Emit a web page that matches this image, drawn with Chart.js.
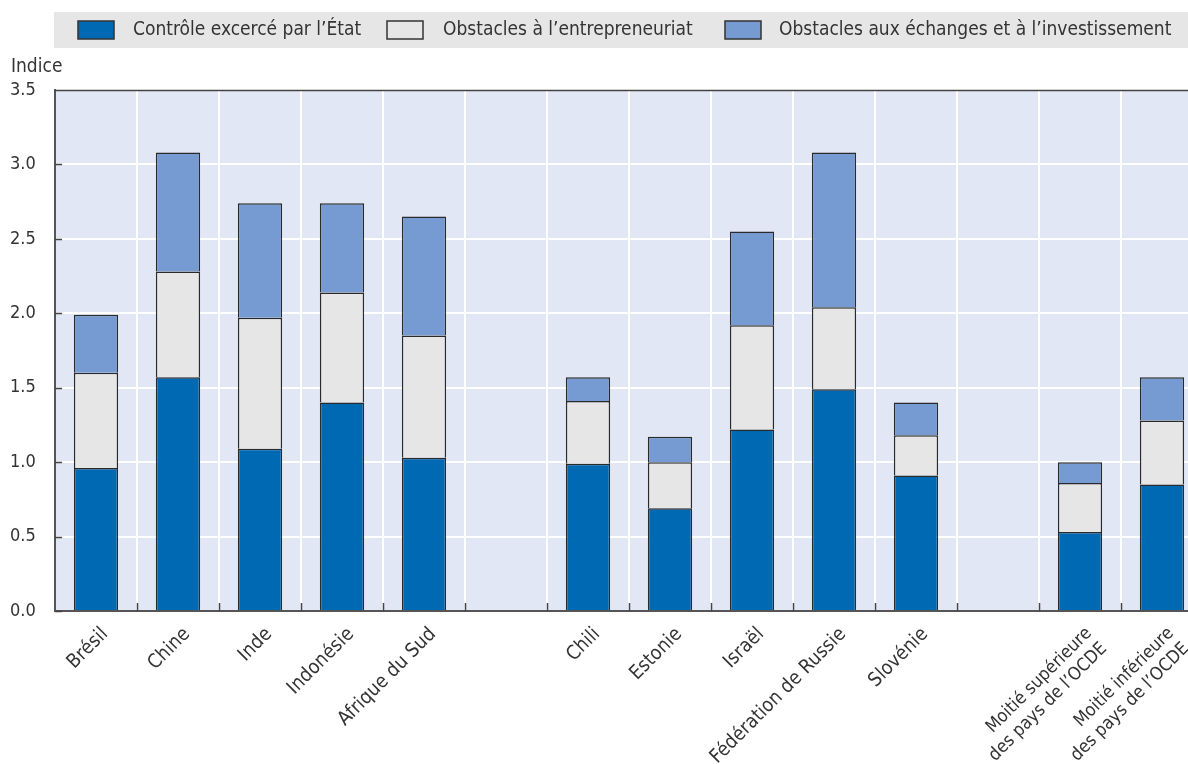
<!DOCTYPE html>
<html>
<head>
<meta charset="utf-8">
<script src="https://cdn.jsdelivr.net/npm/chart.js@4"></script>
<style>
  html,body{margin:0;padding:0;background:#fff;overflow:hidden;}
  #wrap{width:1203px;height:764px;}
</style>
</head>
<body>
<div id="wrap"><canvas id="pmr"></canvas></div>
<script>
// categories (empty strings are the gaps between groups)
const categories=["Brésil","Chine","Inde","Indonésie","Afrique du Sud","",
  "Chili","Estonie","Israël","Fédération de Russie","Slovénie","",
  ["Moitié supérieure","des pays de l’OCDE"],["Moitié inférieure","des pays de l’OCDE"]];

const controleEtat=[0.96,1.57,1.09,1.40,1.03,null,0.99,0.69,1.22,1.49,0.91,null,0.53,0.85];
const obstEntrepreneuriat=[0.64,0.71,0.88,0.74,0.82,null,0.42,0.31,0.70,0.55,0.27,null,0.33,0.43];
const obstEchanges=[0.39,0.80,0.77,0.60,0.80,null,0.16,0.17,0.63,1.04,0.22,null,0.14,0.29];

const seriesNames=["Contrôle excercé par l’État","Obstacles à l’entrepreneuriat","Obstacles aux échanges et à l’investissement"];
const seriesColors=["#0069b4","#e6e6e6","#759bd2"];
const yTicks=[0,0.5,1,1.5,2,2.5,3,3.5];

const FONT="'Liberation Sans Narrow','DejaVu Sans Condensed','Liberation Sans',sans-serif";

// legend strip + plot background + "Indice" label + frame ticks
const decor={
  id:'decor',
  beforeDraw(chart){
    const c=chart.ctx, a=chart.chartArea;
    c.save();
    c.fillStyle='#e6e6e6';
    c.fillRect(54,12,chart.width-54,36);
    // legend items
    const boxX=[78,387,725], textX=[133,443,779];
    c.font="19px "+FONT;
    c.textBaseline='middle';
    seriesNames.forEach((s,i)=>{
      c.fillStyle=seriesColors[i];
      c.fillRect(boxX[i],21,36,18);
      c.strokeStyle='#333';c.lineWidth=1.5;
      c.strokeRect(boxX[i],21,36,18);
      c.fillStyle='#333';
      c.fillText(s,textX[i],30.5);
    });
    c.fillStyle='#e1e7f4';
    c.fillRect(a.left,a.top,a.right-a.left,a.bottom-a.top);
    c.fillStyle='#333';
    c.font="19px "+FONT;
    c.textBaseline='alphabetic';
    c.fillText('Indice',11,72);
    c.restore();
  },
  afterDatasetsDraw(chart){
    const c=chart.ctx, a=chart.chartArea, xs=chart.scales.x, ys=chart.scales.y;
    c.save();
    c.strokeStyle='#444';
    c.lineWidth=1.5;
    c.beginPath();
    c.moveTo(a.left,a.top+0.5);c.lineTo(a.right,a.top+0.5);
    yTicks.forEach(v=>{
      const y=Math.round(ys.getPixelForValue(v))+0.5;
      c.moveTo(a.left,y);c.lineTo(a.left+7,y);
    });
    for(let i=1;i<categories.length;i++){
      const x=Math.round((xs.getPixelForValue(i-1)+xs.getPixelForValue(i))/2)+0.5;
      c.moveTo(x,a.bottom);c.lineTo(x,a.bottom-8);
    }
    c.stroke();
    c.restore();
  }
};

new Chart("pmr",{
  type:"bar",
  data:{
    labels:categories,
    datasets:[
      {label:seriesNames[0],data:controleEtat,backgroundColor:seriesColors[0]},
      {label:seriesNames[1],data:obstEntrepreneuriat,backgroundColor:seriesColors[1]},
      {label:seriesNames[2],data:obstEchanges,backgroundColor:seriesColors[2]}
    ]
  },
  options:{
    responsive:true,
    maintainAspectRatio:false,
    animation:false,
    datasets:{bar:{borderColor:"#2a2a2a",borderWidth:1.5,barPercentage:0.54,categoryPercentage:1}},
    layout:{padding:{left:10,right:0,top:90,bottom:0}},
    plugins:{
      tooltip:{enabled:false},
      legend:{display:false}
    },
    scales:{
      x:{
        stacked:true,
        grid:{offset:true,color:'#fff',lineWidth:2,drawTicks:false},
        border:{color:'#555',width:2},
        ticks:{maxRotation:45,minRotation:45,color:'#333',padding:12,labelOffset:9,
          font:c=>({family:FONT,size:(c.index>=12?18:19.5)})},
        afterFit(s){s.height=153;s.paddingRight=0;s.paddingLeft=0;}
      },
      y:{
        stacked:true,min:0,max:3.5,
        afterBuildTicks(s){s.ticks=yTicks.map(v=>({value:v}));},
        afterFit(s){s.width=45;},
        grid:{color:'#fff',lineWidth:2,drawTicks:false},
        border:{color:'#555',width:2},
        ticks:{color:'#333',crossAlign:'far',padding:17,font:{family:FONT,size:18},callback:v=>Number(v).toFixed(1)}
      }
    }
  },
  plugins:[decor]
});
</script>
</body>
</html>
